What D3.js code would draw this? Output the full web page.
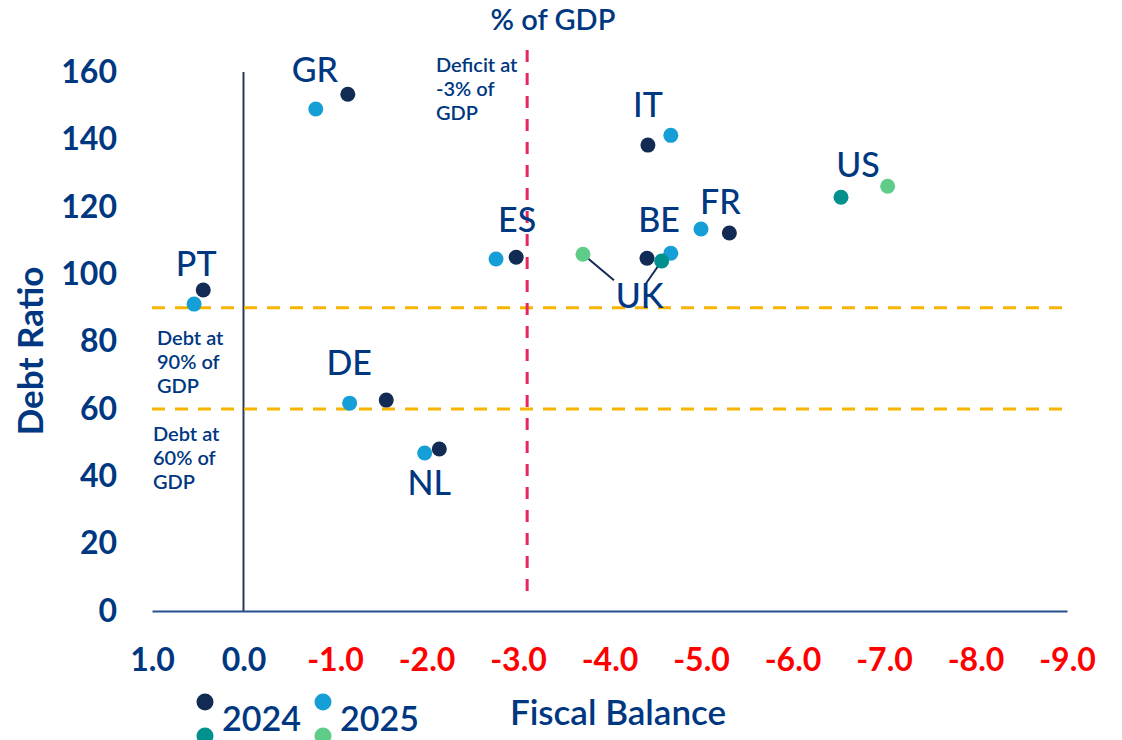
<!DOCTYPE html>
<html lang="en">
<head>
    <meta charset="UTF-8">
    <title>Debt ratio vs fiscal balance</title>
    <script type="text/javascript" src="https://cdnjs.cloudflare.com/ajax/libs/d3/7.8.5/d3.min.js"></script>
    <style>
        body { margin: 0; background: #ffffff; }
        text { font-family: Lato, "Open Sans", sans-serif; }
    </style>
</head>
<body>
    <div id="chart"></div>

    <script>
        // Data
        var countries = ["GR", "PT", "DE", "NL", "ES", "IT", "BE", "FR", "UK", "US"];
        var balance2024 = [-1.14, 0.44, -1.56, -2.14, -2.98, -4.42, -4.41, -5.31, -4.57, -6.53];
        var balance2025 = [-0.79, 0.54, -1.16, -1.98, -2.76, -4.67, -4.67, -5.00, -3.71, -7.04];
        var debt2024 = [153.4, 95.3, 62.6, 48.1, 105.0, 138.3, 104.7, 112.2, 103.9, 122.8];
        var debt2025 = [149.0, 91.1, 61.7, 46.9, 104.5, 141.2, 106.2, 113.4, 105.9, 126.1];
        var nonEuro = ["UK", "US"];

        var xTicks = [1, 0, -1, -2, -3, -4, -5, -6, -7, -8, -9];
        var yTicks = [0, 20, 40, 60, 80, 100, 120, 140, 160];
        var debtThresholds = [90, 60];
        var deficitLine = -3.1;
        var legendYears = ["2024", "2025"];

        // Size of chart
        var w = 1122;
        var h = 740;

        var navy = "#003781";
        var dark = "#122b54";
        var blue = "#169fd6";
        var teal = "#00908d";
        var green = "#5fcc8a";

        var svg = d3.select("#chart")
            .append("svg")
            .attr("width", w)
            .attr("height", h);

        var x = d3.scaleLinear().domain([1, -9]).range([152, 1067]);
        var y = d3.scaleLinear().domain([0, 160]).range([611, 72]);

        // y axis labels
        var yAxis = svg.append("g")
            .attr("transform", "translate(152,0)")
            .call(d3.axisLeft(y).tickValues(yTicks).tickSize(0).tickPadding(35));
        yAxis.select(".domain").remove();
        yAxis.selectAll("text")
            .attr("fill", navy)
            .attr("font-size", "32px")
            .attr("font-weight", "bold");

        // x axis
        var xAxis = svg.append("g")
            .attr("transform", "translate(0," + y(0) + ")")
            .call(d3.axisBottom(x).tickValues(xTicks).tickSize(0).tickSizeOuter(0).tickPadding(37)
                .tickFormat(function(d) { return d.toFixed(1); }));
        xAxis.select(".domain")
            .attr("stroke", "#27508f")
            .attr("stroke-width", 2);
        xAxis.selectAll("text")
            .attr("fill", function(d) { return d < 0 ? "#ff0000" : navy; })
            .attr("font-size", "32px")
            .attr("font-weight", "bold");

        // zero line
        svg.append("line")
            .attr("x1", x(0)).attr("x2", x(0))
            .attr("y1", y(0)).attr("y2", y(160))
            .attr("stroke", "#2b3a5c")
            .attr("stroke-width", 2);

        // debt thresholds
        svg.selectAll(".thr")
            .data(debtThresholds)
            .enter()
            .append("line")
            .attr("class", "thr")
            .attr("x1", x(1)).attr("x2", x(-9))
            .attr("y1", function(d) { return y(d); })
            .attr("y2", function(d) { return y(d); })
            .attr("stroke", "#f7b500")
            .attr("stroke-width", 3)
            .attr("stroke-dasharray", "13,10");

        // deficit line
        svg.append("line")
            .attr("x1", x(deficitLine)).attr("x2", x(deficitLine))
            .attr("y1", y(166.5)).attr("y2", y(3.5))
            .attr("stroke", "#e8265e")
            .attr("stroke-width", 3)
            .attr("stroke-dasharray", "12,11");

        // UK leader lines
        var ukIdx = countries.indexOf("UK");
        var leaders = [
            { x: x(balance2025[ukIdx]), y: y(debt2025[ukIdx]), dx: 31, dy: 26 },
            { x: x(balance2024[ukIdx]), y: y(debt2024[ukIdx]), dx: -16, dy: 23 }
        ];
        svg.selectAll(".leader")
            .data(leaders)
            .enter()
            .append("line")
            .attr("x1", function(d) { return d.x; })
            .attr("y1", function(d) { return d.y; })
            .attr("x2", function(d) { return d.x + d.dx; })
            .attr("y2", function(d) { return d.y + d.dy; })
            .attr("stroke", dark)
            .attr("stroke-width", 2);

        // points
        var rows = countries.map(function(c, i) {
            return { c: c, x24: balance2024[i], y24: debt2024[i], x25: balance2025[i], y25: debt2025[i],
                     other: nonEuro.indexOf(c) >= 0 };
        });
        var euro = rows.filter(function(d) { return !d.other; });
        var rest = rows.filter(function(d) { return d.other; });

        function dots(list, key, color) {
            svg.append("g").selectAll("circle")
                .data(list)
                .enter()
                .append("circle")
                .attr("cx", function(d) { return x(d["x" + key]); })
                .attr("cy", function(d) { return y(d["y" + key]); })
                .attr("r", 7.5)
                .attr("fill", color);
        }
        dots(euro, "25", blue);
        dots(euro, "24", dark);
        dots(rest, "25", green);
        dots(rest, "24", teal);

        // country labels (offset from the 2024 dot, pixels)
        var labelOffset = {
            GR: [-33, -12], PT: [-7, -14], DE: [-37, -25], NL: [-10, 46], ES: [1, -25],
            IT: [0, -28], BE: [12, -26], FR: [-9, -19], UK: [-22, 47], US: [17, -20]
        };
        svg.selectAll(".clabel")
            .data(rows)
            .enter()
            .append("text")
            .attr("x", function(d) { return x(d.x24) + labelOffset[d.c][0]; })
            .attr("y", function(d) { return y(d.y24) + labelOffset[d.c][1]; })
            .attr("text-anchor", "middle")
            .attr("font-size", "34px")
            .attr("font-weight", 500)
            .attr("fill", navy)
            .text(function(d) { return d.c; });

        // annotations
        function note(lines, x0, y0) {
            svg.append("text")
                .attr("fill", navy)
                .attr("font-size", "20px")
                .attr("font-weight", 600)
                .selectAll("tspan")
                .data(lines)
                .enter()
                .append("tspan")
                .attr("x", x0)
                .attr("y", function(d, i) { return y0 + i * 24; })
                .text(function(d) { return d; });
        }
        note(["Deficit at", "-3% of", "GDP"], 436, 72);
        note(["Debt at", "90% of", "GDP"], 157, 345);
        note(["Debt at", "60% of", "GDP"], 153, 441);

        // titles
        svg.append("text")
            .attr("x", 553).attr("y", 30)
            .attr("text-anchor", "middle")
            .attr("font-size", "29px")
            .attr("font-weight", 600)
            .attr("fill", navy)
            .text("% of GDP");

        svg.append("text")
            .attr("x", 618).attr("y", 725)
            .attr("text-anchor", "middle")
            .attr("font-size", "35px")
            .attr("font-weight", 600)
            .attr("fill", navy)
            .text("Fiscal Balance");

        svg.append("text")
            .attr("transform", "translate(43,351) rotate(-90)")
            .attr("text-anchor", "middle")
            .attr("font-size", "35px")
            .attr("font-weight", "bold")
            .attr("fill", navy)
            .text("Debt Ratio");

        // legend
        var legend = svg.selectAll(".legend")
            .data(legendYears)
            .enter()
            .append("g")
            .attr("transform", function(d, i) { return "translate(" + (205 + i * 118) + ",0)"; });
        legend.append("circle").attr("cx", 0).attr("cy", 702).attr("r", 8.5)
            .attr("fill", function(d, i) { return i ? blue : dark; });
        legend.append("circle").attr("cx", 0).attr("cy", 736).attr("r", 8.5)
            .attr("fill", function(d, i) { return i ? green : teal; });
        legend.append("text")
            .attr("x", 17).attr("y", 731)
            .attr("font-size", "34px")
            .attr("font-weight", 600)
            .attr("fill", navy)
            .text(function(d) { return d; });
    </script>
</body>
</html>
